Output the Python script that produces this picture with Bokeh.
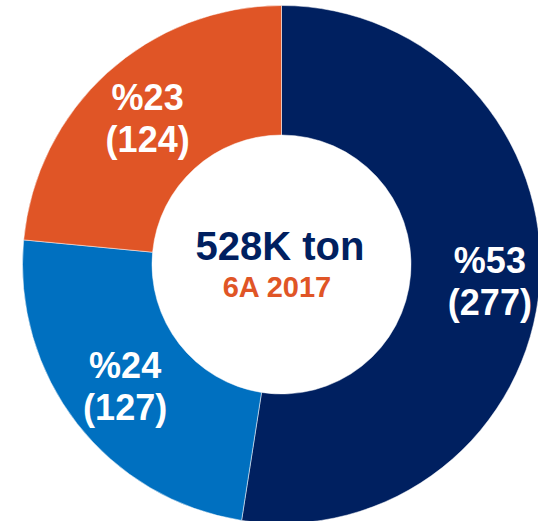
import math
from bokeh.plotting import figure
from bokeh.models import Range1d, ColumnDataSource
from bokeh.embed import file_html
from bokeh.resources import INLINE
from bokeh.core.properties import value

# ---- data ----
categories = ["A", "B", "C"]
values = [277, 127, 124]
percent_labels = ["%53", "%24", "%23"]
count_labels = ["(277)", "(127)", "(124)"]
colors = ["#002060", "#0070C0", "#E05526"]
total_label = "528K ton"
period_label = "6A 2017"

# ---- layout (pixel-like data units) ----
W, H = 538, 521
cx, cy = 281, 257
R_OUT, R_IN = 259, 129.5
label_r = [209, 198, 199]
FONT = "Liberation Sans"
SHIFT = 11  # baseline correction

total = sum(values)
starts, ends, lx, ly = [], [], [], []
cum = 0.0
for i, v in enumerate(values):
    a0 = cum / total
    cum += v
    a1 = cum / total
    starts.append(math.pi / 2 - 2 * math.pi * a1)
    ends.append(math.pi / 2 - 2 * math.pi * a0)
    mid = 2 * math.pi * (a0 + a1) / 2  # clockwise from top
    lx.append(cx + label_r[i] * math.sin(mid))
    ly.append(cy + label_r[i] * math.cos(mid))

src = ColumnDataSource(dict(
    cat=categories, start=starts, end=ends, color=colors,
    x=[cx] * len(values), y=[cy] * len(values),
    px=lx, py=[y + 9 + SHIFT for y in ly], cy2=[y - 33 + SHIFT for y in ly],
    pct=percent_labels, cnt=count_labels,
))

p = figure(width=W, height=H, x_range=Range1d(0, W), y_range=Range1d(0, H),
           output_backend="svg", toolbar_location=None, min_border=0)
p.axis.visible = False
p.grid.visible = False
p.outline_line_color = None
p.background_fill_color = "white"
p.border_fill_color = "white"

p.annular_wedge(x="x", y="y", inner_radius=R_IN, outer_radius=R_OUT,
                start_angle="start", end_angle="end", direction="anticlock",
                fill_color="color", line_color="white", line_width=0.5, source=src)

p.text(x="px", y="py", text="pct", source=src, text_color="white",
       text_font=value(FONT), text_font_style="bold", text_font_size="36px",
       text_align="center", text_baseline="alphabetic")
p.text(x="px", y="cy2", text="cnt", source=src, text_color="white",
       text_font=value(FONT), text_font_style="bold", text_font_size="36px",
       text_align="center", text_baseline="alphabetic")

p.text(x=[cx - 1.5], y=[cy + 8 + SHIFT], text=[total_label], text_color="#002060",
       text_font=value(FONT), text_font_style="bold", text_font_size="40px",
       text_align="center", text_baseline="alphabetic")
p.text(x=[cx - 4], y=[cy - 33 + SHIFT], text=[period_label], text_color="#E05526",
       text_font=value(FONT), text_font_style="bold", text_font_size="29px",
       text_align="center", text_baseline="alphabetic")

open("out.html", "w").write(file_html(p, INLINE))
